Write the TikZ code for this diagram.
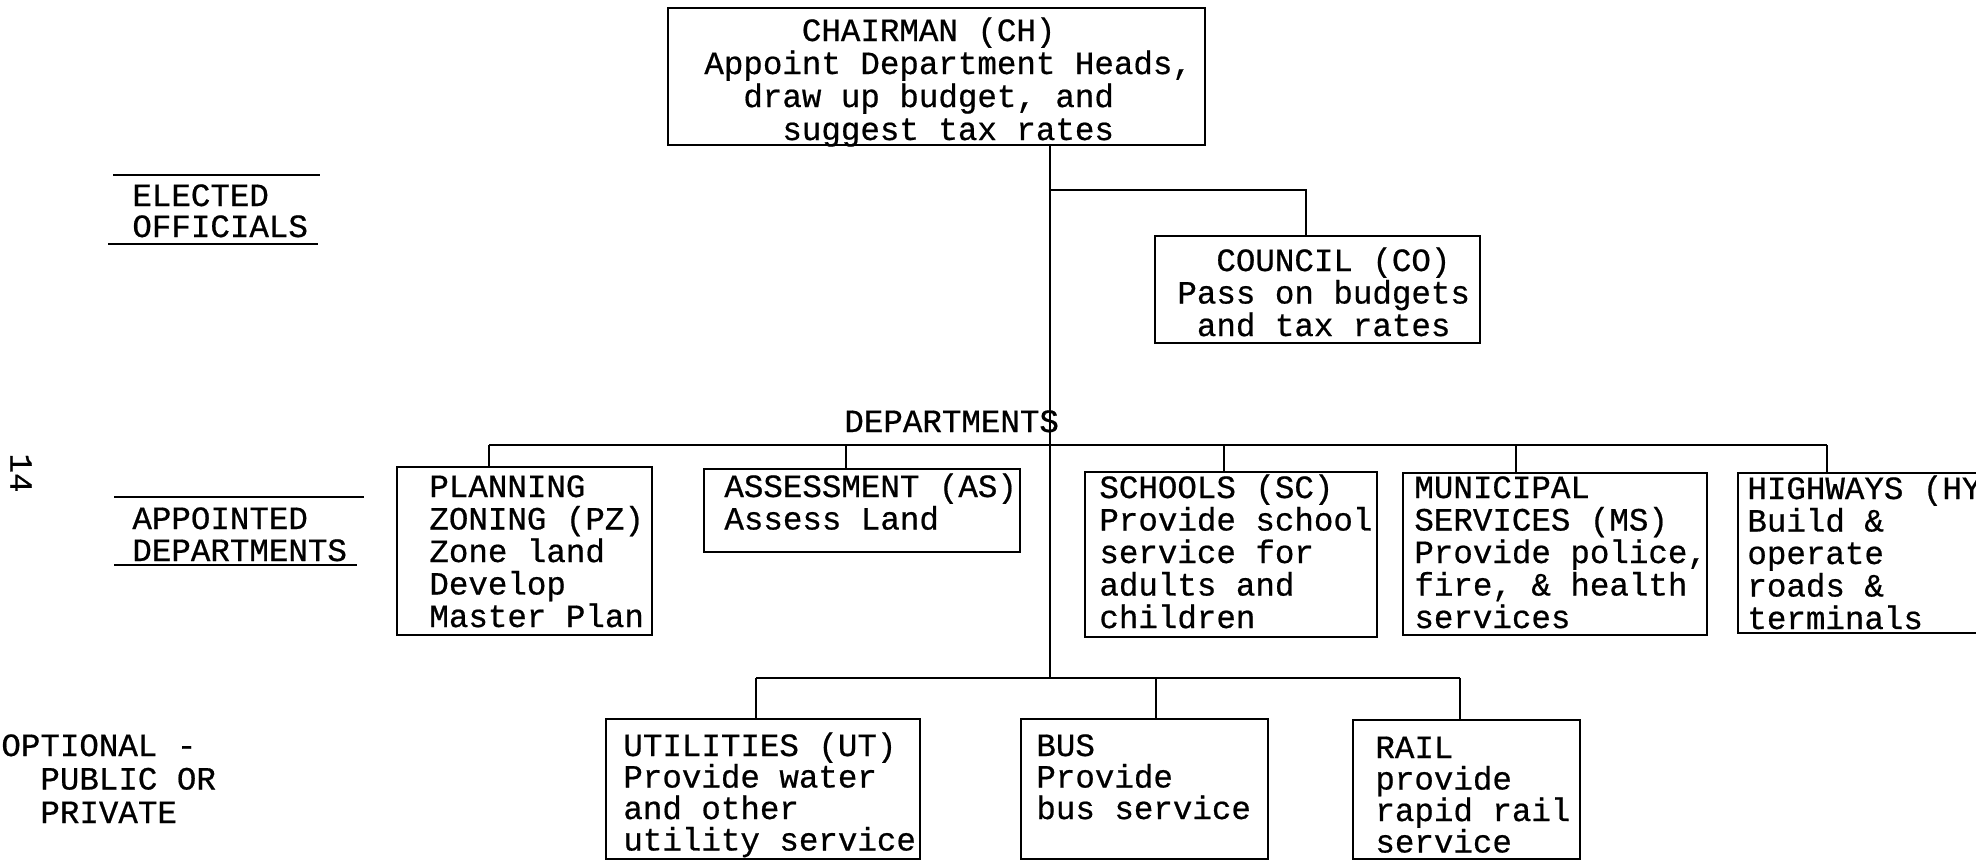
\documentclass[tikz,border=0pt]{standalone}
\usepackage{fontspec}
\setmainfont{Liberation Mono}[FakeBold=0.6]
\usetikzlibrary{fit,calc}
\newcommand\tsp[1]{\hspace*{#1\dimexpr 9.75pt\relax}}
\newcommand\tlines[2][16.25pt]{\vtop{\baselineskip=#1\relax\lineskip=0pt\lineskiplimit=-50pt\halign{##\hfil\cr#2\crcr}}}
\begin{document}
\begin{tikzpicture}[x=0.5pt,y=-0.5pt,
  box/.style={draw, line width=1.4pt, inner sep=0pt},
  conn/.style={line width=1.2pt},
  rulel/.style={line width=1.4pt},
  txt/.style={anchor=base west, inner sep=0pt, font=\fontsize{16.25pt}{16.25pt}\selectfont}]
\useasboundingbox (0,0) rectangle (1976,864);
\clip (0,0) rectangle (1976,864);

% boxes
\node[box, fit={(668,8) (1205,145)}] (ch) {};
\node[box, fit={(1155,236) (1480,343)}] (co) {};
\node[box, fit={(397,467) (652,635)}] (pz) {};
\node[box, fit={(704,469) (1020,552)}] (as) {};
\node[box, fit={(1085,472) (1377,637)}] (sc) {};
\node[box, fit={(1403,473) (1707,635)}] (ms) {};
\node[box, fit={(1738,473) (2010,633)}] (hy) {};
\node[box, fit={(606,719) (920,859)}] (ut) {};
\node[box, fit={(1021,719) (1268,859)}] (bus) {};
\node[box, fit={(1353,720) (1580,859)}] (rail) {};

% box texts
\node[txt] (cht) at (704,41) {\tlines[16.5pt]{\tsp{5}CHAIRMAN (CH)\cr Appoint Department Heads,\cr\tsp{2}draw up budget, and\cr\tsp{4}suggest tax rates}};
\node[txt] (cot) at (1177,271) {\tlines{\tsp{2}COUNCIL (CO)\cr Pass on budgets\cr\tsp{1}and tax rates}};
\node[txt] (pzt) at (429,497) {\tlines{PLANNING\cr ZONING (PZ)\cr Zone land\cr Develop\cr Master Plan}};
\node[txt] (ast) at (724,497) {\tlines{ASSESSMENT (AS)\cr Assess Land}};
\node[txt] (sct) at (1099,498) {\tlines{SCHOOLS (SC)\cr Provide school\cr service for\cr adults and\cr children}};
\node[txt] (mst) at (1414,498) {\tlines{MUNICIPAL\cr SERVICES (MS)\cr Provide police,\cr fire, \& health\cr services}};
\node[txt] (hyt) at (1747,499) {\tlines{HIGHWAYS (HY)\cr Build \&\cr operate\cr roads \&\cr terminals}};
\node[txt] (utt) at (623,756) {\tlines[15.75pt]{UTILITIES (UT)\cr Provide water\cr and other\cr utility service}};
\node[txt] (bust) at (1036,756) {\tlines[15.75pt]{BUS\cr Provide\cr bus service}};
\node[txt] (railt) at (1375,758) {\tlines[15.75pt]{RAIL\cr provide\cr rapid rail\cr service}};

% side labels
\node[txt] (el) at (132,206) {\tlines[15.5pt]{ELECTED\cr OFFICIALS}};
\draw[rulel] (113,175) -- (320,175);
\draw[rulel] (108,244) -- (318,244);
\node[txt] (ap) at (132,529) {\tlines[16pt]{APPOINTED\cr DEPARTMENTS}};
\draw[rulel] (114,497) -- (364,497);
\draw[rulel] (114,565) -- (357,565);
\node[txt] (op) at (1,756) {\tlines[16.75pt]{OPTIONAL -\cr\tsp{2}PUBLIC OR\cr\tsp{2}PRIVATE}};
\node[txt, anchor=center, rotate=-90] (pg) at (21,473) {14};
\node[txt] (dl) at (844,432) {DEPARTMENTS};

% connectors
\coordinate (tb) at (1050,678);
\draw[conn] (ch.south -| tb) -- (tb);
\coordinate (cj) at (1050,190);
\coordinate (cb) at (1306,190);
\draw[conn] (cj) -- (cb) -- (cb |- co.north);

\coordinate (dpz) at (489,445);
\coordinate (das) at (846,445);
\coordinate (dsc) at (1224,445);
\coordinate (dms) at (1516,445);
\coordinate (dhy) at (1827,445);
\draw[conn] (dpz) -- (dhy);
\foreach \b/\n in {dpz/pz, das/as, dsc/sc, dms/ms, dhy/hy}
  \draw[conn] (\b) -- (\b |- \n.north);

\coordinate (lut) at (756,678);
\coordinate (lbus) at (1156,678);
\coordinate (lrail) at (1460,678);
\draw[conn] (lut) -- (lrail);
\foreach \b/\n in {lut/ut, lbus/bus, lrail/rail}
  \draw[conn] (\b) -- (\b |- \n.north);
\end{tikzpicture}
\end{document}
